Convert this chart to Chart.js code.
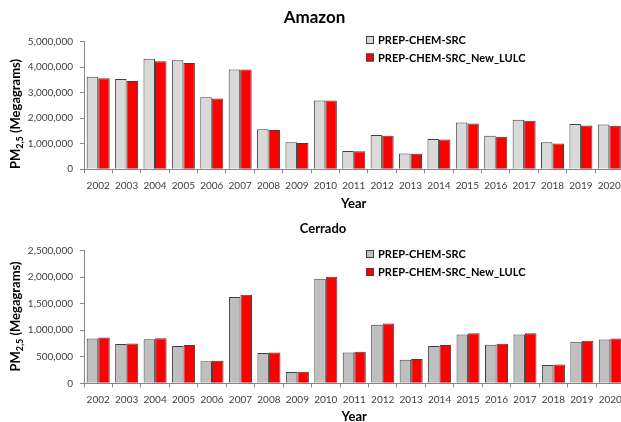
<!DOCTYPE html>
<html>
<head>
<meta charset="utf-8">
<script src="https://cdn.jsdelivr.net/npm/chart.js@4.4.1/dist/chart.umd.min.js"></script>
<style>
    html, body { margin: 0; padding: 0; background: #fff; overflow: hidden; }
    #topBox { position: absolute; left: 0; top: 0; }
    #bottomBox { position: absolute; left: 0; top: 210px; }
</style>
</head>
<body>
<div id="topBox"><canvas id="amazonChart" width="628" height="211"></canvas></div>
<div id="bottomBox"><canvas id="cerradoChart" width="628" height="213"></canvas></div>
<script>
const years = ['2002', '2003', '2004', '2005', '2006', '2007', '2008', '2009', '2010', '2011',
    '2012', '2013', '2014', '2015', '2016', '2017', '2018', '2019', '2020']
const seriesNames = ['PREP-CHEM-SRC', 'PREP-CHEM-SRC_New_LULC']

// Amazon PM2.5 (Mg)
const amazonBase = [3620000, 3530000, 4320000, 4270000, 2820000, 3900000, 1560000, 1050000, 2690000, 710000,
    1340000, 610000, 1180000, 1830000, 1310000, 1940000, 1050000, 1770000, 1750000]
const amazonNew = [3560000, 3450000, 4230000, 4160000, 2770000, 3900000, 1530000, 1030000, 2690000, 700000,
    1310000, 600000, 1160000, 1790000, 1270000, 1900000, 1010000, 1710000, 1700000]

// Cerrado PM2.5 (Mg)
const cerradoBase = [844000, 738000, 831000, 700000, 413000, 1625000, 569000, 213000, 1970000, 580000,
    1100000, 444000, 700000, 919000, 725000, 919000, 344000, 781000, 825000]
const cerradoNew = [862000, 750000, 850000, 719000, 425000, 1669000, 581000, 219000, 2006000, 594000,
    1125000, 456000, 719000, 944000, 744000, 944000, 356000, 800000, 844000]

const amazonAxis = { max: 5000000, step: 1000000 }
const cerradoAxis = { max: 2500000, step: 500000 }

const fontFamily = 'Lato, "Open Sans", sans-serif'
const axisColor = '#868686'
const labelColor = '#404040'

// y title with subscript and the legend, drawn on the canvas
const decor = {
    id: 'decor',
    afterDraw(chart, args, opts) {
        const ctx = chart.ctx
        ctx.save()
        ctx.fillStyle = '#000'
        ctx.textBaseline = 'middle'

        // y axis title
        ctx.save()
        ctx.translate(opts.titleX, opts.titleY)
        ctx.rotate(-Math.PI / 2)
        const mainFont = 'bold 13px ' + fontFamily
        const subFont = 'bold 9px ' + fontFamily
        ctx.font = mainFont
        const wPM = ctx.measureText('PM').width
        const wRest = ctx.measureText(' (Megagrams)').width
        ctx.font = subFont
        const wSub = ctx.measureText('2,5').width
        let x = -(wPM + wSub + wRest) / 2
        ctx.textAlign = 'left'
        ctx.font = mainFont
        ctx.fillText('PM', x, 0)
        x += wPM
        ctx.font = subFont
        ctx.fillText('2,5', x, 4)
        x += wSub
        ctx.font = mainFont
        ctx.fillText(' (Megagrams)', x, 0)
        ctx.restore()

        // legend
        ctx.font = 'bold 11px ' + fontFamily
        ctx.textAlign = 'left'
        chart.data.datasets.forEach((ds, i) => {
            const y = opts.legendY[i]
            ctx.fillStyle = ds.backgroundColor
            ctx.fillRect(opts.legendX, y - 4, 8, 8)
            ctx.strokeStyle = '#404040'
            ctx.lineWidth = 1
            ctx.strokeRect(opts.legendX + 0.5, y - 3.5, 7, 7)
            ctx.fillStyle = '#000'
            ctx.fillText(ds.label, opts.legendX + 12, y + 0.5)
        })
        ctx.restore()
    }
}

const makeChart = (id, cfg) => {
    const context = document.querySelector(id).getContext('2d')
    return new Chart(context, {
        type: 'bar',
        data: {
            labels: years,
            datasets: [{
                label: seriesNames[0],
                backgroundColor: cfg.grey,
                borderColor: '#404040',
                borderWidth: 1,
                data: cfg.base
            }, {
                label: seriesNames[1],
                backgroundColor: '#ff0000',
                borderColor: '#404040',
                borderWidth: 1,
                data: cfg.newer
            }]
        },
        options: {
            responsive: false,
            animation: false,
            devicePixelRatio: 1,
            categoryPercentage: 0.81,
            barPercentage: 1,
            layout: { padding: cfg.padding },
            plugins: {
                legend: { display: false },
                tooltip: { enabled: false },
                title: {
                    display: true,
                    text: cfg.title,
                    color: '#000',
                    font: { family: fontFamily, size: cfg.titleSize, weight: 'bold' },
                    padding: cfg.titlePadding
                },
                decor: cfg.decor
            },
            scales: {
                x: {
                    grid: { drawOnChartArea: false, tickLength: 4, color: axisColor },
                    border: { color: axisColor },
                    ticks: {
                        color: labelColor, padding: cfg.xPad, maxRotation: 0, autoSkip: false,
                        font: { family: fontFamily, size: 10 }
                    },
                    title: {
                        display: true,
                        text: 'Year',
                        color: '#000',
                        font: { family: fontFamily, size: 13, weight: 'bold', lineHeight: cfg.yearLine },
                        padding: { top: 0, bottom: 0 }
                    }
                },
                y: {
                    min: 0,
                    max: cfg.axis.max,
                    grid: { drawOnChartArea: false, tickLength: 4, color: axisColor },
                    border: { color: axisColor },
                    ticks: {
                        stepSize: cfg.axis.step,
                        color: labelColor,
                        padding: 7,
                        font: { family: fontFamily, size: 10 },
                        callback: v => v.toLocaleString('en-US')
                    },
                    afterFit: s => { s.width = 84 - cfg.padding.left }
                }
            }
        },
        plugins: [decor]
    })
}

makeChart('#amazonChart', {
    title: 'Amazon',
    titleSize: 17,
    titlePadding: { top: 7.3, bottom: 13.8 },
    padding: { left: 4.4, right: 3.4, top: 0, bottom: 2.2 },
    grey: '#d9d9d9',
    base: amazonBase,
    newer: amazonNew,
    axis: amazonAxis,
    xPad: 7,
    yearLine: 0.74,
    decor: { titleX: 16, titleY: 114, legendX: 366, legendY: [40, 57.5] }
})

makeChart('#cerradoChart', {
    title: 'Cerrado',
    titleSize: 13,
    titlePadding: { top: 11.2, bottom: 13.7 },
    padding: { left: 21.4, right: 3.4, top: 0, bottom: 0.3 },
    grey: '#bfbfbf',
    base: cerradoBase,
    newer: cerradoNew,
    axis: cerradoAxis,
    xPad: 6,
    yearLine: 0.877,
    decor: { titleX: 16, titleY: 106.5, legendX: 366, legendY: [44, 62] }
})
</script>
</body>
</html>
